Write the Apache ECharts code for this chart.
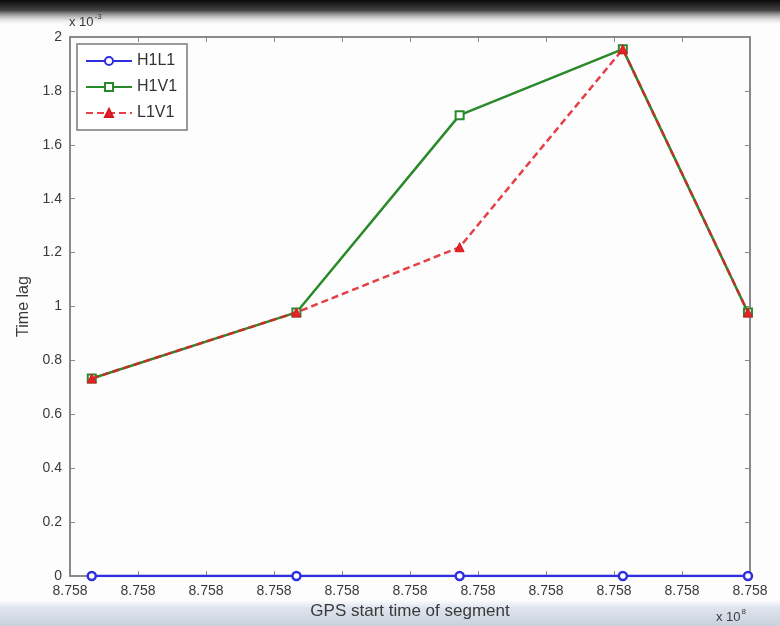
<!DOCTYPE html>
<html>
<head>
<meta charset="utf-8">
<script src="https://cdn.jsdelivr.net/npm/echarts@6/dist/echarts.min.js"></script>
<style>
  html, body { margin: 0; padding: 0; background: #fff; }
  #main { width: 780px; height: 626px; }
</style>
</head>
<body>
<div id="main"></div>
<script>
// GPS start time of each segment, in axis tick units (all ticks read 8.758 x 10^8)
var gpsStart = [0.32, 3.33, 5.73, 8.13, 9.97];
var xTicks = ['8.758', '8.758', '8.758', '8.758', '8.758', '8.758', '8.758', '8.758', '8.758', '8.758', '8.758'];

// time lag, x 10^-3
var lagH1L1 = [0, 0, 0, 0, 0];
var lagH1V1 = [0.733, 0.978, 1.71, 1.955, 0.978];
var lagL1V1 = [0.733, 0.978, 1.22, 1.955, 0.978];

function pairs(xs, ys) {
    return xs.map(function (x, i) { return [x, ys[i]]; });
}

var fontFam = 'Liberation Sans, Arial, sans-serif';
var axisGray = '#8a8a8a';
var labelColor = '#3a3a3a';

var myChart = echarts.init(document.getElementById('main'));

// box axes, matlab style: ticks inward on all four sides
function boxAxis(extra) {
    var base = {
        type: 'value',
        axisLine: { show: true, onZero: false, lineStyle: { color: axisGray, width: 2 } },
        axisTick: { inside: true, length: 5, lineStyle: { color: axisGray } },
        splitLine: { show: false }
    };
    return Object.assign(base, extra);
}

var option = {
    backgroundColor: '#fdfdfd',
    animation: false,
    textStyle: { fontFamily: fontFam },
    grid: { left: 70, right: 30, top: 37, bottom: 50 },
    legend: {
        orient: 'vertical',
        left: 77,
        top: 44,
        padding: [9, 10, 9, 8],
        itemGap: 10,
        itemWidth: 46,
        itemHeight: 10,
        borderColor: '#9a9a9a',
        borderWidth: 2,
        backgroundColor: '#fff',
        textStyle: { fontSize: 16, color: '#333', fontFamily: fontFam },
        data: ['H1L1', 'H1V1', 'L1V1']
    },
    xAxis: [boxAxis({
        min: 0, max: 10, interval: 1,
        name: 'GPS start time of segment',
        nameLocation: 'middle',
        nameGap: 26,
        nameTextStyle: { fontSize: 17, color: labelColor },
        axisLabel: {
            color: labelColor, fontSize: 14, margin: 8,
            formatter: function (v) { return xTicks[Math.round(v)]; }
        }
    }), boxAxis({
        position: 'top',
        min: 0, max: 10, interval: 1,
        axisLabel: { show: false }
    })],
    yAxis: [boxAxis({
        min: 0, max: 2, interval: 0.2,
        name: 'Time lag',
        nameLocation: 'middle',
        nameGap: 38,
        nameTextStyle: { fontSize: 16, color: labelColor },
        axisLabel: {
            color: labelColor, fontSize: 14, margin: 8,
            formatter: function (v) { return String(+v.toFixed(1)); }
        }
    }), boxAxis({
        position: 'right',
        min: 0, max: 2, interval: 0.2,
        axisLabel: { show: false }
    })],
    graphic: [{
        type: 'rect', left: 0, top: 0, z: -10,
        shape: { width: 780, height: 26 },
        style: {
            fill: new echarts.graphic.LinearGradient(0, 0, 0, 1, [
                { offset: 0, color: '#0a0a0a' },
                { offset: 0.4, color: '#444' },
                { offset: 1, color: 'rgba(255,255,255,0)' }
            ])
        }
    }, {
        type: 'rect', left: 0, top: 600, z: -10,
        shape: { width: 780, height: 26 },
        style: {
            fill: new echarts.graphic.LinearGradient(0, 0, 0, 1, [
                { offset: 0, color: 'rgba(220,228,238,0)' },
                { offset: 0.3, color: '#dfe5ee' },
                { offset: 1, color: '#c9d1dd' }
            ])
        }
    }, {
        type: 'text', left: 69, top: 13,
        style: {
            text: '{b|x 10}{s|-3}',
            rich: {
                b: { fontSize: 13, fill: labelColor, fontFamily: fontFam, verticalAlign: 'bottom' },
                s: { fontSize: 8, fill: labelColor, fontFamily: fontFam, verticalAlign: 'top', padding: [0, 0, 8, 1] }
            }
        }
    }, {
        type: 'text', left: 716, top: 608,
        style: {
            text: '{b|x 10}{s|8}',
            rich: {
                b: { fontSize: 13, fill: labelColor, fontFamily: fontFam, verticalAlign: 'bottom' },
                s: { fontSize: 8, fill: labelColor, fontFamily: fontFam, verticalAlign: 'top', padding: [0, 0, 8, 1] }
            }
        }
    }],
    series: [{
        name: 'H1L1',
        type: 'line',
        data: pairs(gpsStart, lagH1L1),
        symbol: 'circle', symbolSize: 8,
        color: '#2f2fe0',
        lineStyle: { width: 2.5, color: '#2f2fe0' },
        itemStyle: { color: '#fff', borderColor: '#2f2fe0', borderWidth: 2.5 },
        z: 3
    }, {
        name: 'H1V1',
        type: 'line',
        data: pairs(gpsStart, lagH1V1),
        symbol: 'rect', symbolSize: 8,
        color: '#2a8a2a',
        lineStyle: { width: 2.5, color: '#2a8a2a' },
        itemStyle: { color: '#fff', borderColor: '#2a8a2a', borderWidth: 2 },
        z: 2
    }, {
        name: 'L1V1',
        type: 'line',
        data: pairs(gpsStart, lagL1V1),
        symbol: 'triangle', symbolSize: 9,
        color: '#e8202a',
        lineStyle: { width: 2.5, color: 'rgba(225,30,40,0.85)', type: [7, 4] },
        itemStyle: { color: '#e8202a', borderColor: '#d01a20', borderWidth: 1 },
        z: 4
    }]
};

myChart.setOption(option);
</script>
</body>
</html>
